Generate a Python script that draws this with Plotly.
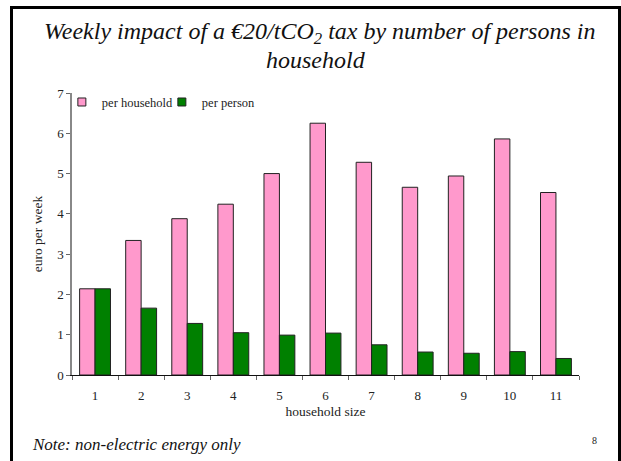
import plotly.graph_objects as go

# Household size categories and weekly tax impact (euro per week)
household_size = ["1", "2", "3", "4", "5", "6", "7", "8", "9", "10", "11"]
per_household = [2.14, 3.34, 3.88, 4.24, 5.00, 6.25, 5.28, 4.66, 4.94, 5.86, 4.53]
per_person = [2.14, 1.66, 1.28, 1.05, 0.99, 1.04, 0.75, 0.57, 0.54, 0.58, 0.41]
y_ticks = [0, 1, 2, 3, 4, 5, 6, 7]

series_names = ["per household", "per person"]
series_colors = ["#FF99CC", "#008000"]

W, H = 621, 461
ML, MR, MT, MB = 72, 42, 93, 86
PW, PH = W - ML - MR, H - MT - MB

SERIF = "Liberation Serif"


def px_to_paper_x(px):
    return (px - ML) / PW


def px_to_paper_y(py):
    return (H - MB - py) / PH


fig = go.Figure()
for name, vals, col in zip(series_names, [per_household, per_person], series_colors):
    fig.add_trace(go.Bar(
        x=household_size, y=vals, name=name, showlegend=False,
        marker=dict(color=col, line=dict(color="#222222", width=1)),
    ))

# small square swatches for the legend (no visible points)
for name, col in zip(series_names, series_colors):
    fig.add_trace(go.Scatter(
        x=[household_size[0]], y=[None], name=name, mode="markers",
        hoverinfo="skip",
        marker=dict(symbol="square", size=8, color=col,
                    line=dict(color="#222222", width=1)),
    ))

fig.update_layout(
    width=W, height=H,
    margin=dict(l=ML, r=MR, t=MT, b=MB),
    paper_bgcolor="white", plot_bgcolor="white",
    barmode="group", bargap=0.33, bargroupgap=0.0,
    font=dict(family=SERIF, color="#222222", size=13),
    showlegend=True,
    legend=dict(
        orientation="h", x=-0.02, y=1.02, xanchor="left", yanchor="top",
        font=dict(family=SERIF, size=12.5, color="#222222"),
        bgcolor="rgba(0,0,0,0)", itemwidth=30, traceorder="normal",
        entrywidth=55, entrywidthmode="pixels",
    ),
    xaxis=dict(
        type="category", range=[-0.5, len(household_size) - 0.5],
        showline=True, linecolor="#111111", linewidth=1,
        ticks="outside", tickson="boundaries", ticklen=4, tickcolor="#666666",
        ticklabelstandoff=8,
        tickfont=dict(family=SERIF, size=13, color="#222222"),
        title=dict(text="household size", standoff=4,
                   font=dict(family=SERIF, size=13.5, color="#222222")),
        showgrid=False, zeroline=False,
    ),
    yaxis=dict(
        range=[0, 7], tickvals=y_ticks,
        showline=True, linecolor="#888888", linewidth=1.5,
        ticks="outside", ticklen=4, tickcolor="#666666",
        tickfont=dict(family=SERIF, size=13, color="#222222"),
        title=dict(text="euro per week", standoff=11,
                   font=dict(family=SERIF, size=13.5, color="#222222")),
        showgrid=False, zeroline=False,
    ),
    shapes=[dict(
        type="rect", xref="paper", yref="paper",
        x0=px_to_paper_x(11.5), x1=px_to_paper_x(619.5),
        y0=px_to_paper_y(475), y1=px_to_paper_y(7.5),
        line=dict(color="black", width=3), fillcolor="rgba(0,0,0,0)",
    )],
    annotations=[
        dict(text="<i>Weekly impact of a €20/tCO<sub>2</sub> tax by number of persons in</i>",
             xref="paper", yref="paper",
             x=px_to_paper_x(319), y=px_to_paper_y(33), xanchor="center", yanchor="middle",
             showarrow=False, font=dict(family=SERIF, size=24, color="#111111")),
        dict(text="<i>household</i>",
             xref="paper", yref="paper",
             x=px_to_paper_x(316), y=px_to_paper_y(60), xanchor="center", yanchor="middle",
             showarrow=False, font=dict(family=SERIF, size=24, color="#111111")),
        dict(text="<i>Note: non-electric energy only</i>", xref="paper", yref="paper",
             x=px_to_paper_x(30), y=px_to_paper_y(444), xanchor="left", yanchor="middle",
             showarrow=False, font=dict(family=SERIF, size=17, color="#111111")),
        dict(text="8", xref="paper", yref="paper",
             x=px_to_paper_x(594), y=px_to_paper_y(440), xanchor="center", yanchor="middle",
             showarrow=False, font=dict(family=SERIF, size=10, color="#222222")),
    ],
)

fig.write_html("out.html")
